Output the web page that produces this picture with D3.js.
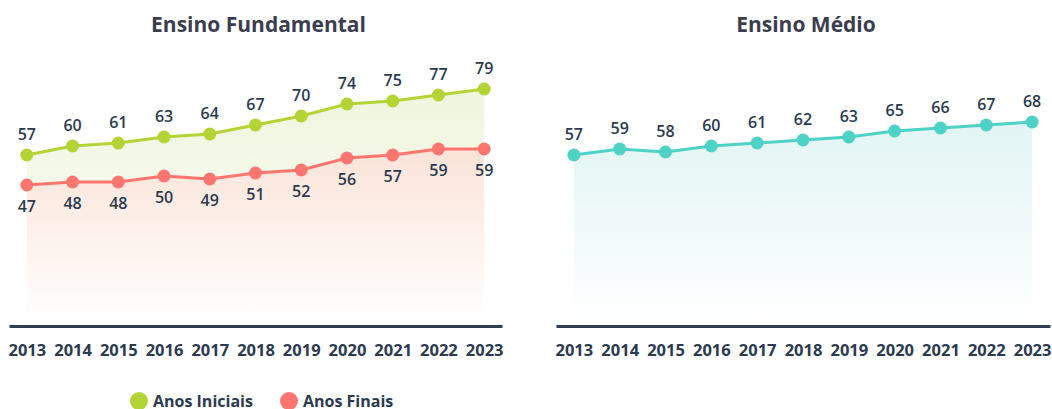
<!DOCTYPE html>
<html>
<head>
<meta charset="utf-8">
<script src="https://cdn.jsdelivr.net/npm/d3@7"></script>
<style>
	body { margin: 0; background: #fff; }
	svg { display: block; font-family: 'Open Sans', sans-serif; }
</style>
</head>
<body>
<svg></svg>
<script>

const years = ['2013', '2014', '2015', '2016', '2017', '2018', '2019', '2020', '2021', '2022', '2023']
const anosIniciais = [57, 60, 61, 63, 64, 67, 70, 74, 75, 77, 79]
const anosFinais = [47, 48, 48, 50, 49, 51, 52, 56, 57, 59, 59]
const ensinoMedio = [57, 59, 58, 60, 61, 62, 63, 65, 66, 67, 68]
const titles = ['Ensino Fundamental', 'Ensino Médio']
const legendLabels = ['Anos Iniciais', 'Anos Finais']

let width = 1052, height = 409
const ink = '#2b3a4f'
const green = '#b4d334', red = '#ff7570', teal = '#4ed2c6'

let svg = d3.select('svg').attr('width', width).attr('height', height)
let defs = svg.append('defs')

const grad = (id, color) => {
	let g = defs.append('linearGradient').attr('id', id)
		.attr('x1', 0).attr('y1', 0).attr('x2', 0).attr('y2', 1)
	g.append('stop').attr('offset', '0%').attr('stop-color', color)
	g.append('stop').attr('offset', '100%').attr('stop-color', '#ffffff')
}
grad('gGreen', '#eef5dc')
grad('gRed', '#fbe4d8')
grad('gTeal', '#e1f5f4')

let scY = d3.scaleLinear().domain([0, 100]).range([326, 26])

const panel = (x0, x1, series, title) => {
	let scX = d3.scalePoint().domain(years).range([x0, x1]).padding(0.39)
	let g = svg.append('g')

	g.append('text').text(title)
		.attr('x', (scX(years[0]) + scX(years[10])) / 2 + 3).attr('y', 32)
		.attr('text-anchor', 'middle')
		.attr('font-size', 21).attr('font-weight', 700)
		.attr('fill', '#3b3d4e')

	let area = d3.area().x((d, i) => scX(years[i])).y0(scY(1.5)).y1(d => scY(d))
	let line = d3.line().x((d, i) => scX(years[i])).y(d => scY(d))

	series.forEach(s => {
		g.append('path').attr('d', area(s.values)).attr('fill', `url(#${s.grad})`)
	})

	series.forEach(s => {
		g.append('path').attr('d', line(s.values))
			.attr('fill', 'none').attr('stroke', s.color).attr('stroke-width', 3)

		g.append('g').selectAll('circle')
			.data(s.values).enter().append('circle')
			.attr('cx', (d, i) => scX(years[i]))
			.attr('cy', d => scY(d))
			.attr('r', 6.5)
			.attr('fill', s.color)

		g.append('g').selectAll('text')
			.data(s.values).enter().append('text')
			.text(d => d)
			.attr('x', (d, i) => scX(years[i]))
			.attr('y', d => scY(d) + s.dy)
			.attr('text-anchor', 'middle')
			.attr('font-size', 16).attr('font-weight', 600)
			.attr('fill', ink)
	})

	let axis = g.append('g')
		.attr('transform', 'translate(0, 326)')
		.call(d3.axisBottom(scX).tickSize(0).tickPadding(18))
	axis.select('.domain').attr('stroke', '#2f3e4f').attr('stroke-width', 3)
	axis.selectAll('text')
		.attr('font-size', 16.5).attr('font-weight', 700)
		.attr('font-family', "'Open Sans', sans-serif")
		.attr('fill', ink)
}

panel(9, 502, [
	{ values: anosIniciais, color: green, grad: 'gGreen', dy: -15 },
	{ values: anosFinais, color: red, grad: 'gRed', dy: 27 }
], titles[0])

panel(556, 1050, [
	{ values: ensinoMedio, color: teal, grad: 'gTeal', dy: -15 }
], titles[1])

let legend = svg.append('g')
const legendX = [139, 289]
const legendColors = [green, red]
legendLabels.forEach((l, i) => {
	legend.append('circle').attr('cx', legendX[i]).attr('cy', 401).attr('r', 9).attr('fill', legendColors[i])
	legend.append('text').text(l)
		.attr('x', legendX[i] + 14).attr('y', 407)
		.attr('font-size', 16).attr('font-weight', 700)
		.attr('fill', ink)
})

</script>
</body>
</html>
